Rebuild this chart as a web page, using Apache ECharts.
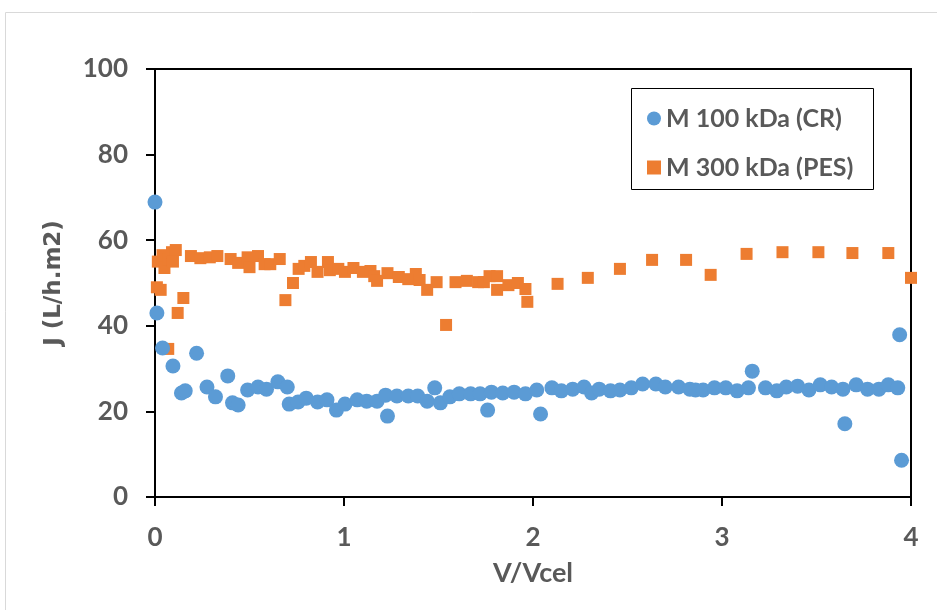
<!DOCTYPE html>
<html>
<head>
<meta charset="utf-8">
<script src="https://cdn.jsdelivr.net/npm/echarts@6/dist/echarts.min.js"></script>
<style>
  html, body { margin: 0; padding: 0; background: #fff; }
  #chart { width: 937px; height: 610px; }
</style>
</head>
<body>
<div id="chart"></div>
<script>
// M 100 kDa (CR)
const crX = [0, 0.01, 0.04, 0.095, 0.14, 0.16, 0.22, 0.275, 0.32, 0.385, 0.41, 0.44, 0.49, 0.545, 0.59, 0.65, 0.70, 0.71, 0.757, 0.80, 0.86, 0.91, 0.96, 1.005, 1.07, 1.12, 1.175, 1.22, 1.23, 1.28, 1.34, 1.39, 1.44, 1.48, 1.51, 1.56, 1.61, 1.67, 1.72, 1.76, 1.78, 1.84, 1.90, 1.96, 2.02, 2.04, 2.10, 2.15, 2.21, 2.27, 2.31, 2.35, 2.41, 2.46, 2.52, 2.58, 2.65, 2.70, 2.77, 2.83, 2.86, 2.90, 2.96, 3.02, 3.08, 3.14, 3.16, 3.23, 3.29, 3.34, 3.40, 3.46, 3.52, 3.58, 3.64, 3.65, 3.71, 3.77, 3.83, 3.88, 3.93, 3.94, 3.95]
const crY = [68.9, 43, 34.8, 30.6, 24.3, 24.8, 33.6, 25.7, 23.4, 28.3, 22, 21.5, 25, 25.7, 25.2, 26.9, 25.7, 21.7, 22.2, 23.1, 22.2, 22.7, 20.3, 21.7, 22.7, 22.4, 22.4, 23.8, 18.9, 23.6, 23.6, 23.6, 22.4, 25.5, 22, 23.4, 24.1, 24.1, 24.1, 20.3, 24.5, 24.3, 24.5, 24.1, 25, 19.4, 25.5, 24.8, 25.2, 25.7, 24.3, 25.2, 24.8, 25, 25.5, 26.4, 26.4, 25.7, 25.7, 25.2, 25, 25, 25.5, 25.5, 24.8, 25.5, 29.4, 25.5, 24.8, 25.7, 25.9, 25, 26.2, 25.7, 25.2, 17.1, 26.2, 25.2, 25.2, 26.2, 25.5, 37.9, 8.6]

// M 300 kDa (PES)
const pesX = [0.01, 0.03, 0.015, 0.04, 0.05, 0.07, 0.09, 0.11, 0.095, 0.07, 0.12, 0.15, 0.19, 0.24, 0.29, 0.33, 0.40, 0.44, 0.49, 0.50, 0.545, 0.58, 0.61, 0.66, 0.69, 0.73, 0.76, 0.79, 0.825, 0.86, 0.915, 0.925, 0.97, 1.005, 1.05, 1.10, 1.14, 1.16, 1.175, 1.23, 1.29, 1.34, 1.38, 1.40, 1.44, 1.49, 1.54, 1.59, 1.65, 1.71, 1.74, 1.77, 1.81, 1.81, 1.87, 1.92, 1.96, 1.97, 2.13, 2.29, 2.46, 2.63, 2.81, 2.94, 3.13, 3.32, 3.51, 3.69, 3.88, 4.0]
const pesY = [49, 48.4, 55, 56.5, 53.5, 55.4, 57.2, 57.7, 55, 34.6, 43, 46.5, 56.3, 55.8, 56, 56.3, 55.6, 54.7, 56, 53.7, 56.3, 54.4, 54.4, 55.6, 46, 50, 53.3, 54, 54.9, 52.6, 54.9, 53, 53.3, 52.6, 53.5, 52.6, 52.8, 51.6, 50.5, 52.3, 51.4, 50.9, 52.1, 50.7, 48.4, 50.2, 40.2, 50.2, 50.5, 50.2, 50.2, 51.6, 51.6, 48.4, 49.5, 50, 48.6, 45.6, 49.8, 51.2, 53.3, 55.4, 55.4, 51.9, 56.8, 57.2, 57.2, 57, 57, 51.2]

const xTicks = [0, 1, 2, 3, 4]
const yTicks = [0, 20, 40, 60, 80, 100]

const pair = (xs, ys) => xs.map((x, i) => [x, ys[i]])

const textColor = '#595959'
const font = 'Lato'

const chart = echarts.init(document.getElementById('chart'))
chart.setOption({
  animation: false,
  grid: {
    left: 155, top: 69, right: 26, bottom: 113,
    show: true, borderColor: '#000', borderWidth: 2
  },
  graphic: [
    { type: 'rect', shape: { x: 5.5, y: 12.5, width: 950, height: 620 },
      style: { fill: 'none', stroke: '#d9d9d9', lineWidth: 1 } },
    { type: 'rect', shape: { x: 631.5, y: 88.5, width: 242, height: 101 },
      style: { fill: '#fff', stroke: '#000', lineWidth: 1 }, z: 5 }
  ],
  legend: {
    orient: 'vertical',
    left: 642, top: 101,
    itemWidth: 14, itemHeight: 14, itemGap: 24,
    z: 10,
    textStyle: { fontFamily: font, fontWeight: 'bold', fontSize: 25, lineHeight: 25, color: textColor }
  },
  xAxis: {
    type: 'value', min: 0, max: 4, interval: 1,
    name: 'V/Vcel', nameLocation: 'middle', nameGap: 63,
    nameTextStyle: { fontFamily: font, fontWeight: 'bold', fontSize: 27, color: textColor },
    axisLine: { lineStyle: { color: '#000', width: 2 } },
    axisTick: { show: true, length: 9, lineStyle: { color: '#000', width: 2 } },
    axisLabel: { fontFamily: font, fontWeight: 'bold', fontSize: 26, color: textColor, margin: 28,
      formatter: v => xTicks.includes(v) ? String(v) : '' },
    splitLine: { show: false }
  },
  yAxis: {
    type: 'value', min: 0, max: 100, interval: 20,
    name: 'J (L/h.m2)', nameLocation: 'middle', nameGap: 89, nameRotate: 90,
    nameTextStyle: { fontFamily: 'DejaVu Sans', fontWeight: 'bold', fontSize: 23, color: textColor },
    axisLine: { lineStyle: { color: '#000', width: 2 } },
    axisTick: { show: true, length: 9, lineStyle: { color: '#000', width: 2 } },
    axisLabel: { fontFamily: font, fontWeight: 'bold', fontSize: 26, color: textColor, margin: 27,
      formatter: v => yTicks.includes(v) ? String(v) : '' },
    splitLine: { show: false }
  },
  series: [
    {
      name: 'M 100 kDa (CR)', type: 'scatter', symbol: 'circle', symbolSize: 15,
      itemStyle: { color: '#5B9BD5', opacity: 1 },
      data: pair(crX, crY), z: 3
    },
    {
      name: 'M 300 kDa (PES)', type: 'scatter', symbol: 'rect', symbolSize: 12,
      itemStyle: { color: '#ED7D31', opacity: 1 },
      data: pair(pesX, pesY), z: 2
    }
  ]
})
</script>
</body>
</html>
